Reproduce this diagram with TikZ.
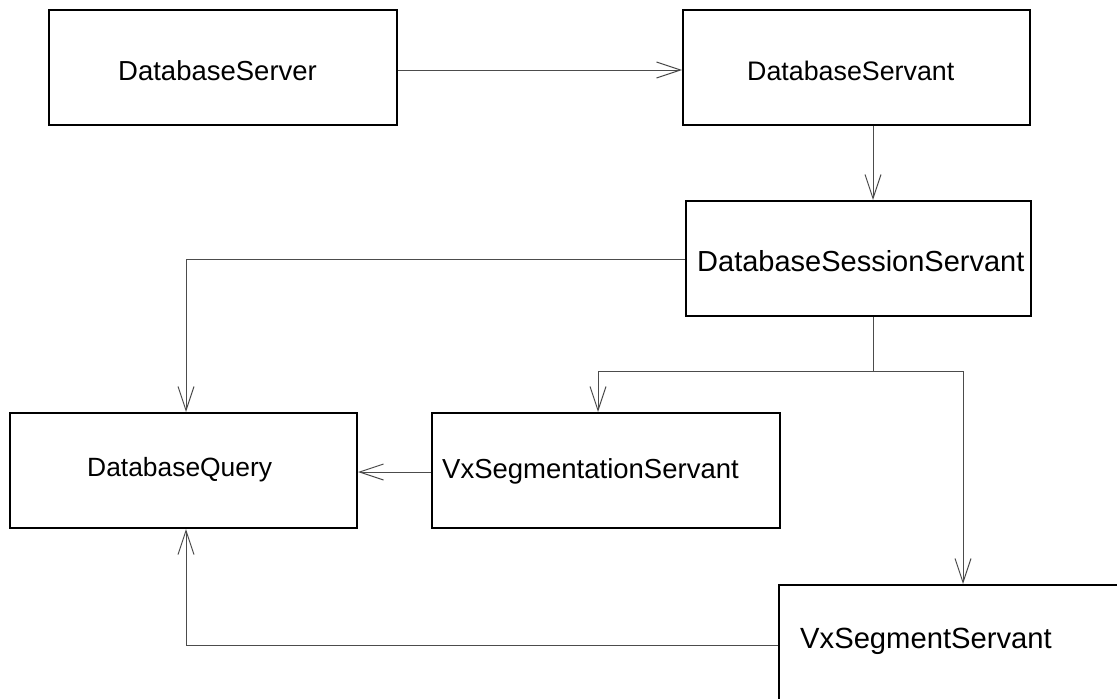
\documentclass[tikz,border=0pt]{standalone}
\usepackage{fontspec}
\setmainfont{Liberation Sans}
\usetikzlibrary{arrows.meta}
\newcommand{\namesize}[1]{\fontsize{#1}{1.1\dimexpr#1\relax}\selectfont}
\begin{document}
\begin{tikzpicture}[x=1pt,y=-1pt,
  classbox/.style={draw=black, line width=2pt, rectangle, inner sep=0pt,
                   minimum width=347pt, minimum height=115pt},
  classname/.style={anchor=west, inner sep=0pt, font=\namesize{27.5pt}},
  conn/.style={draw=black!70, line width=1pt},
  dep/.style={conn, -{Straight Barb[length=24pt,width=16pt,line width=1pt]}}]
\useasboundingbox (0,0) rectangle (1117,699);
\clip (0,0) rectangle (1117,699);
\fill[white] (0,0) rectangle (1117,699);

% class boxes
\node[classbox, minimum width=348pt] (srv)  at (223,67.5)   {};
\node[classbox] (svt)  at (856.5,67.5) {};
\node[classbox, minimum width=345pt] (sess) at (858.5,258.5) {};
\node[classbox] (qry)  at (183.5,470.5) {};
\node[classbox, minimum width=348pt] (vxs)  at (606,470.5)  {};
\node[classbox] (vsg)  at (952.5,642.5) {};

% class names
\node[classname] (srvT)  at (118,71)  {DatabaseServer};
\node[classname, font=\namesize{26.8pt}] (svtT)  at (747,71)  {DatabaseServant};
\node[classname, font=\namesize{29pt}] (sessT) at (697,261) {DatabaseSessionServant};
\node[classname, font=\namesize{26.4pt}] (qryT)  at (87,470)  {DatabaseQuery};
\node[classname] (vxsT)  at (442,471) {VxSegmentationServant};
\node[classname, font=\namesize{29.2pt}] (vsgT)  at (800,641) {VxSegmentServant};

% dependencies
\coordinate (fork) at (873,371);
\draw[dep] (srv.east |- 0,70) -- (svt.west |- 0,70);
\draw[dep] (svt.south -| 873,0) -- (sess.north -| 873,0);
\draw[dep] (sess.west |- 0,259) -| (qry.north -| 186,0);
\draw[conn] (sess.south -| fork) -- (fork);
\draw[dep] (fork) -| (vxs.north -| 598,0);
\draw[dep] (fork) -| (vsg.north -| 963,0);
\draw[dep] (vxs.west |- 0,472) -- (qry.east |- 0,472);
\draw[dep] (vsg.west |- 0,645) -| (qry.south -| 186,0);
\end{tikzpicture}
\end{document}
